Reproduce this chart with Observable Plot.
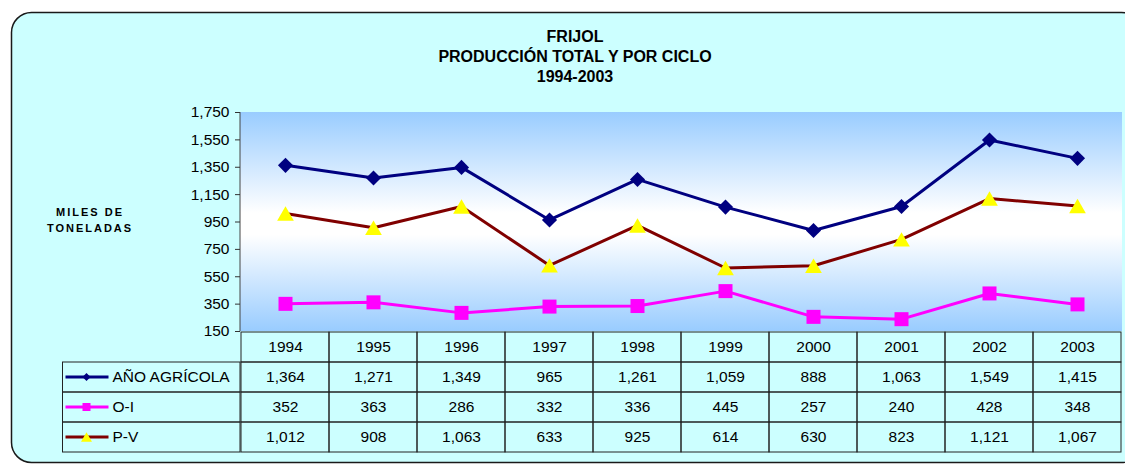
<!DOCTYPE html>
<html>
<head>
<meta charset="utf-8">
<script src="https://cdn.jsdelivr.net/npm/d3@7"></script>
<script src="https://cdn.jsdelivr.net/npm/@observablehq/plot@0.6"></script>
<style>
  html, body { margin: 0; background: #fff; font-family: "Liberation Sans", Arial, sans-serif; overflow: hidden; }
  #wrap { position: relative; width: 1125px; height: 465px; overflow: hidden; }
  #box { position: absolute; left: 0; top: 0; }
  #title { position: absolute; left: 375px; width: 400px; top: 27px; text-align: center;
           font-weight: bold; font-size: 16px; line-height: 20px; color: #000; }
  #ylab { position: absolute; left: 30px; width: 116px; padding-left: 2px; top: 204px; text-align: center;
          font-weight: bold; font-size: 11px; letter-spacing: 2px; line-height: 16px; color: #000; }
  #chart, #table { position: absolute; left: 0; }
  #chart { top: 0; }
  #table { top: 330px; }
</style>
</head>
<body>
<div id="wrap">
  <svg id="box" width="1125" height="465" style="overflow:hidden">
    <rect x="11.5" y="12.5" width="1130" height="450" rx="20" ry="20"
          fill="#CCFFFF" stroke="#1a1a1a" stroke-width="1.5"></rect>
  </svg>
  <div id="title">FRIJOL<br>PRODUCCIÓN TOTAL Y POR CICLO<br>1994-2003</div>
  <div id="ylab">MILES DE<br>TONELADAS</div>
  <div id="chart"></div>
  <div id="table"></div>
</div>
<script>
// ---- data ----
const years = ["1994","1995","1996","1997","1998","1999","2000","2001","2002","2003"];
const anoAgricola = [1364, 1271, 1349, 965, 1261, 1059, 888, 1063, 1549, 1415];
const oi = [352, 363, 286, 332, 336, 445, 257, 240, 428, 348];
const pv = [1012, 908, 1063, 633, 925, 614, 630, 823, 1121, 1067];
const seriesNames = ["AÑO AGRÍCOLA", "O-I", "P-V"];
const yTicks = [150, 350, 550, 750, 950, 1150, 1350, 1550, 1750];

// ---- styles ----
const seriesValues = [anoAgricola, oi, pv];
const lineColors = ["#000080", "#FF00FF", "#800000"];
const markerFills = ["#000080", "#FF00FF", "#FFFF00"];
const markerSymbols = ["diamond2", "square", "triangle"];
const markerR = [6.8, 7.9, 6.2];
const markerDy = [0, 0, 2.4];
const legendSymbols = [d3.symbolDiamond2, d3.symbolSquare, d3.symbolTriangle];
const legendSizes = [42, 64, 52];
const legendDy = [0, 0, 1.6];
const FONT = "'Liberation Sans', Arial, sans-serif";
const FS = 15.5;
const fmt = d3.format(",");

const rows = seriesNames.flatMap((s, k) =>
  years.map((yr, i) => ({series: s, year: yr, value: seriesValues[k][i]})));

// gradient plot background + left axis line
function plotBackground(index, scales, values, dims) {
  const {marginLeft, marginTop, marginRight, marginBottom, width, height} = dims;
  const g = d3.create("svg:g");
  const grad = g.append("defs").append("linearGradient")
    .attr("id", "plotbg").attr("x1", 0).attr("y1", 0).attr("x2", 0).attr("y2", 1);
  [[0, "#99CCFF"], [0.46, "#FFFFFF"], [0.56, "#FFFFFF"], [1, "#99CCFF"]].forEach(([o, c]) =>
    grad.append("stop").attr("offset", o).attr("stop-color", c));
  g.append("rect")
    .attr("x", marginLeft).attr("y", marginTop)
    .attr("width", width - marginLeft - marginRight)
    .attr("height", height - marginTop - marginBottom)
    .attr("fill", "url(#plotbg)");
  g.append("line")
    .attr("x1", marginLeft).attr("x2", marginLeft)
    .attr("y1", marginTop).attr("y2", height - marginBottom)
    .attr("stroke", "#444").attr("stroke-width", 1);
  return g.node();
}

const chart = Plot.plot({
  width: 1125, height: 340,
  marginLeft: 240, marginRight: 3, marginTop: 112, marginBottom: 9,
  style: {background: "transparent", fontFamily: FONT, fontSize: FS + "px", color: "#000", overflow: "visible"},
  x: {type: "point", domain: years, padding: 0.5, axis: null},
  y: {domain: [150, 1750], axis: null},
  marks: [
    plotBackground,
    Plot.axisY({ticks: yTicks, tickFormat: fmt, tickSize: 5, tickPadding: 6, fontSize: FS, label: null, stroke: "#333", fill: "#000"}),
    ...seriesNames.map((s, k) => Plot.line(rows.filter(d => d.series === s), {
      x: "year", y: "value", stroke: lineColors[k], strokeWidth: 3
    })),
    ...seriesNames.map((s, k) => Plot.dot(rows.filter(d => d.series === s), {
      x: "year", y: "value", symbol: markerSymbols[k], r: markerR[k],
      fill: markerFills[k], stroke: "none", dy: markerDy[k]
    }))
  ]
});
document.getElementById("chart").append(chart);

// ---- data table ----
const rowKeys = ["year", ...seriesNames];
const cells = [
  ...years.map(yr => ({row: "year", year: yr, label: yr})),
  ...rows.map(d => ({row: d.series, year: d.year, label: fmt(d.value)}))
];

function legendColumn(index, scales, values, dims) {
  const {x, y} = scales;
  const {marginLeft, marginRight, width} = dims;
  const bw = x.bandwidth ? x.bandwidth() : (width - marginLeft - marginRight) / years.length;
  const bh = y.bandwidth();
  const left = marginLeft - 2 * bw - 1.5;
  const g = d3.create("svg:g");
  seriesNames.forEach((s, k) => {
    const top = y(s);
    const cy = top + bh / 2;
    g.append("rect").attr("x", left).attr("y", top)
      .attr("width", marginLeft - left).attr("height", bh)
      .attr("fill", "none").attr("stroke", "#222").attr("stroke-width", 1);
    g.append("line").attr("x1", left + 3).attr("x2", left + 46)
      .attr("y1", cy).attr("y2", cy)
      .attr("stroke", lineColors[k]).attr("stroke-width", 3);
    g.append("path")
      .attr("d", d3.symbol(legendSymbols[k], legendSizes[k])())
      .attr("transform", `translate(${left + 24},${cy + legendDy[k]})`)
      .attr("fill", markerFills[k]);
    g.append("text").attr("x", left + 50).attr("y", cy).attr("dy", "0.35em")
      .attr("text-anchor", "start")
      .attr("font-size", FS).attr("fill", "#000").text(s);
  });
  return g.node();
}

const table = Plot.plot({
  width: 1125, height: 124,
  marginLeft: 240, marginRight: 3, marginTop: 1, marginBottom: 1,
  style: {background: "transparent", fontFamily: FONT, fontSize: FS + "px", color: "#000", overflow: "visible"},
  x: {type: "band", domain: years, padding: 0, axis: null},
  y: {type: "band", domain: rowKeys, padding: 0, axis: null},
  marks: [
    Plot.cell(cells, {x: "year", y: "row", fill: "none", stroke: "#222", strokeWidth: 1, inset: 0}),
    Plot.text(cells, {x: "year", y: "row", text: "label", fontSize: FS, fill: "#000"}),
    legendColumn
  ]
});
document.getElementById("table").append(table);
</script>
</body>
</html>
